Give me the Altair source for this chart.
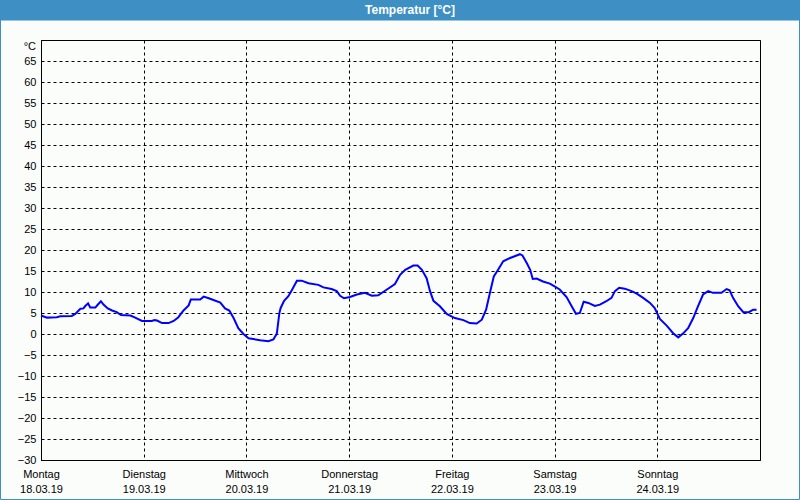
import altair as alt
import pandas as pd
import json

# --- data -------------------------------------------------------------
hours = [0, 1.4, 3.7, 4.5, 7.2, 8.0, 9.2, 9.9, 10.3, 11.0, 11.5, 12.7, 13.2, 14.0, 14.6,
         15.6, 16.6, 17.7, 18.7, 20.9, 22.0, 23.6, 25.9, 26.5, 27.1, 28.3, 29.8, 31.0,
         32.1, 33.3, 34.5, 35.0, 37.2, 38.0, 39.2, 40.3, 41.9, 43.0, 44.0, 45.0, 46.1,
         47.3, 48.5, 49.6, 51.2, 53.1, 54.3, 55.1, 55.7, 56.0, 56.8, 57.8, 58.6, 59.8,
         60.9, 62.5, 64.8, 66.0, 67.9, 69.1, 69.9, 70.8, 72.2, 73.8, 75.7, 77.3, 78.8,
         80.4, 82.7, 83.9, 85.1, 87.0, 88.0, 89.0, 90.1, 90.9, 91.7, 93.2, 94.8, 96.7,
         98.7, 100.2, 101.8, 103.0, 104.0, 104.9, 105.8, 106.8, 108.0, 109.6, 111.9,
         112.5, 113.5, 114.3, 114.9, 115.8, 117.3, 118.9, 120.1, 121.2, 122.8, 124.0,
         125.0, 125.9, 126.8, 127.9, 129.4, 130.6, 132.1, 133.3, 134.1, 135.1, 136.4,
         138.0, 139.2, 140.7, 142.3, 143.4, 144.6, 146.2, 147.7, 148.9, 150.0, 151.2,
         152.4, 153.5, 154.7, 155.9, 157.0, 159.0, 160.2, 160.9, 161.7, 162.9, 164.1,
         165.4, 166.4, 167.2]
temps = [4.4, 3.9, 4.0, 4.2, 4.3, 4.8, 6.0, 6.1, 6.6, 7.3, 6.3, 6.3, 6.9, 7.8, 7.0,
         6.1, 5.6, 5.2, 4.5, 4.4, 3.9, 3.1, 3.1, 3.3, 3.2, 2.6, 2.6, 3.1,
         4.0, 5.6, 6.8, 8.2, 8.2, 8.9, 8.5, 8.1, 7.5, 6.1, 5.6, 3.8, 1.4,
         0.0, -1.0, -1.2, -1.5, -1.7, -1.3, 0.1, 5.0, 6.2, 7.9, 9.0, 10.4, 12.7,
         12.7, 12.1, 11.7, 11.1, 10.7, 10.2, 9.1, 8.5, 8.8, 9.4, 9.8, 9.1, 9.2,
         10.3, 11.9, 14.1, 15.3, 16.3, 16.3, 15.3, 13.3, 10.2, 7.9, 6.6, 4.8, 3.8,
         3.3, 2.6, 2.5, 3.4, 5.8, 9.8, 13.7, 15.3, 17.3, 18.1, 19.0,
         18.7, 16.9, 15.3, 13.1, 13.2, 12.5, 12.0, 11.3, 10.6, 8.8, 6.6,
         4.8, 5.0, 7.7, 7.4, 6.7, 7.0, 7.8, 8.6, 10.2, 11.0, 10.8,
         10.2, 9.6, 8.6, 7.4, 6.2, 3.6, 2.0, 0.2, -0.8, 0.1, 1.4,
         3.8, 6.6, 9.4, 10.2, 9.8, 9.8, 10.7, 10.4, 8.6, 6.6, 5.2,
         5.2, 5.8, 5.8]

day_names = ["Montag", "Dienstag", "Mittwoch", "Donnerstag", "Freitag", "Samstag", "Sonntag"]
day_dates = ["18.03.19", "19.03.19", "20.03.19", "21.03.19", "22.03.19", "23.03.19", "24.03.19"]
y_ticks = list(range(-30, 70, 5))
x_ticks = [0, 24, 48, 72, 96, 120, 144, 168]
title_text = "Temperatur [°C]"
unit_text = "°C"

df = pd.DataFrame({"h": hours, "t": temps})

FONT = "Liberation Sans"
BLUE_BAR = "#3d8fc4"

names_js = json.dumps(day_names)
dates_js = json.dumps(day_dates)
label_expr = (f"datum.value < 168 ? [{names_js}[round(datum.value/24)], "
              f"{dates_js}[round(datum.value/24)]] : ''")

one = alt.Data(values=[{}])

bar = alt.Chart(one).mark_rect(color=BLUE_BAR).encode(
    x=alt.value(-41), x2=alt.value(759), y=alt.value(-40), y2=alt.value(-20)
)
frame = alt.Chart(one).mark_rect(fillOpacity=0, stroke=BLUE_BAR, strokeWidth=1).encode(
    x=alt.value(-40.5), x2=alt.value(758.5), y=alt.value(-20), y2=alt.value(459.5)
)
title = alt.Chart(one).mark_text(
    text=title_text, color="white", font=FONT, fontSize=12, fontWeight="bold",
    align="center", baseline="middle"
).encode(x=alt.value(369), y=alt.value(-30))
unit = alt.Chart(one).mark_text(
    text=unit_text, color="black", font=FONT, fontSize=11, align="right", baseline="middle"
).encode(x=alt.value(-5), y=alt.value(7))

line = alt.Chart(df).mark_line(color="#0000ff", strokeWidth=2).encode(
    x=alt.X("h:Q", scale=alt.Scale(domain=[0, 168], nice=False, zero=False),
            axis=alt.Axis(values=x_ticks, title=None, labelExpr=label_expr,
                          grid=True, gridDash=[3, 3], gridColor="black", gridOpacity=1,
                          gridWidth=1, ticks=False, domainColor="black", domainWidth=1,
                          labelFont=FONT, labelFontSize=11, labelColor="black",
                          labelBaseline="top", labelPadding=8, labelLineHeight=15,
                          labelAlign="center", labelFlush=False, labelOverlap=False)),
    y=alt.Y("t:Q", scale=alt.Scale(domain=[-30, 70], nice=False, zero=False),
            axis=alt.Axis(values=y_ticks, title=None, grid=True, gridDash=[3, 3],
                          gridColor="black", gridOpacity=1, gridWidth=1, ticks=False,
                          domainColor="black", domainWidth=1, labelFont=FONT,
                          labelFontSize=11, labelColor="black", labelPadding=5,
                          labelFlush=False, labelOverlap=False)),
)

chart = alt.layer(bar, frame, title, unit, line).properties(
    width=719, height=420,
    autosize=alt.AutoSizeParams(type="none"),
    padding={"left": 41, "top": 40, "right": 40, "bottom": 40},
    background="#fbfdfb",
).configure_view(stroke="black", strokeWidth=1)

chart.save("out.html", embed_options={"renderer": "svg", "actions": False})
